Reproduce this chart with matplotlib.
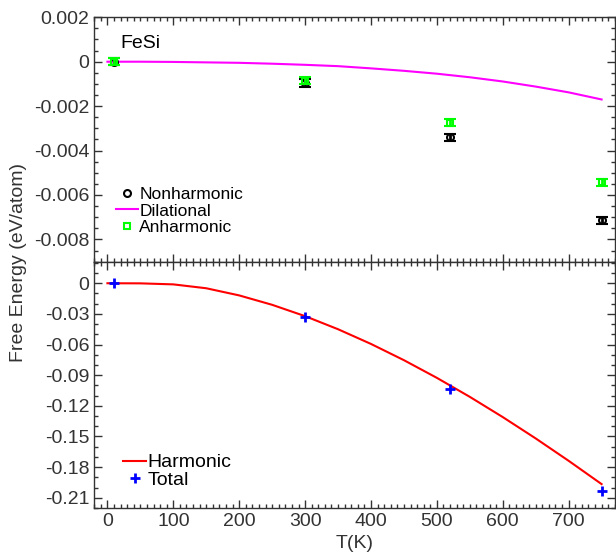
import matplotlib
matplotlib.use("Agg")
import matplotlib.pyplot as plt
from matplotlib.lines import Line2D
from matplotlib.ticker import MultipleLocator, FuncFormatter

plt.rcParams['font.family'] = ['Liberation Sans', 'DejaVu Sans']

# temperatures of the computed points
T_pts = [10, 300, 520, 750]
nonharmonic = [0.0, -0.00096, -0.0034, -0.00713]
nonharmonic_err = [0.00016, 0.00016, 0.00016, 0.00016]
anharmonic = [0.0, -0.00085, -0.00275, -0.00542]
anharmonic_err = [0.00016, 0.00016, 0.00016, 0.00016]
total = [0.0, -0.0326, -0.1033, -0.2036]

# smooth curves
T_curve = [0, 50, 100, 150, 200, 250, 300, 350, 400, 450, 500, 550, 600, 650, 700, 750]
dilational = [0.0, 0.0, -0.00001, -0.00003, -0.00005, -0.00009, -0.00014, -0.0002,
              -0.0003, -0.00041, -0.00054, -0.0007, -0.00089, -0.00112, -0.00138, -0.0017]
harmonic = [0.0, -0.0001, -0.0011, -0.0049, -0.0119, -0.0211, -0.0322, -0.0450,
            -0.0594, -0.0753, -0.0926, -0.1112, -0.1310, -0.1519, -0.1738, -0.1966]

fig = plt.figure(figsize=(6.16, 5.52), dpi=100)
ax1 = fig.add_axes([0.153, 0.5248, 0.845, 0.4439])
ax2 = fig.add_axes([0.153, 0.0797, 0.845, 0.4451], sharex=ax1)

fs = 14
grey = '#333333'

ax1.plot(T_curve, dilational, color='#ff00ff', lw=1.5, zorder=2)
ax1.errorbar(T_pts, nonharmonic, yerr=nonharmonic_err, fmt='o', mfc='none', mec='black',
             ms=5, mew=1.5, ecolor='black', elinewidth=2, capsize=4, capthick=2, zorder=3)
ax1.errorbar(T_pts, anharmonic, yerr=anharmonic_err, fmt='s', mfc='none', mec='#00ff00',
             ms=4.5, mew=1.5, ecolor='#00ff00', elinewidth=2, capsize=4, capthick=2, zorder=4)

ax2.plot(T_curve, harmonic, color='#ff0000', lw=1.5, zorder=2)
ax2.plot(T_pts, total, '+', color='#0000ff', ms=7, mew=2, zorder=3)

ax1.set_xlim(-20, 770)
ax1.set_ylim(-0.00903, 0.002)
ax2.set_ylim(-0.22, 0.0205)

ax1.xaxis.set_major_locator(MultipleLocator(100))
ax1.xaxis.set_minor_locator(MultipleLocator(10))
ax1.yaxis.set_major_locator(MultipleLocator(0.002))
ax1.yaxis.set_minor_locator(MultipleLocator(0.0005))
ax2.yaxis.set_major_locator(MultipleLocator(0.03))
ax2.yaxis.set_minor_locator(MultipleLocator(0.01))

def fmt(v, pos):
    s = ('%.3f' % v).rstrip('0').rstrip('.')
    if s in ('-0', '0'):
        return '0'
    return s

ax1.yaxis.set_major_formatter(FuncFormatter(fmt))
ax2.yaxis.set_major_formatter(FuncFormatter(fmt))

for ax in (ax1, ax2):
    ax.tick_params(which='both', direction='in', top=True, right=True,
                   color=grey, labelsize=fs, labelcolor=grey)
    ax.tick_params(which='major', length=6, width=1)
    ax.tick_params(which='minor', length=3, width=1)
    for sp in ax.spines.values():
        sp.set_color(grey)
        sp.set_linewidth(1)
ax1.tick_params(labelbottom=False)

ax1.text(0.05, 0.895, 'FeSi', transform=ax1.transAxes, fontsize=fs, color='black',
         va='center', ha='left')

h1 = [Line2D([], [], ls='none', marker='o', mfc='none', mec='black', ms=5, mew=1.5),
      Line2D([], [], color='#ff00ff', lw=1.5),
      Line2D([], [], ls='none', marker='s', mfc='none', mec='#00ff00', ms=4.5, mew=1.5)]
ax1.legend(h1, ['Nonharmonic', 'Dilational', 'Anharmonic'], loc='lower left',
           bbox_to_anchor=(0.018, 0.06), frameon=False, fontsize=12.5, handlelength=1.3,
           handletextpad=0.05, labelspacing=0.1, borderaxespad=0.3)

h2 = [Line2D([], [], color='#ff0000', lw=1.5),
      Line2D([], [], ls='none', marker='+', color='#0000ff', ms=7, mew=2)]
ax2.legend(h2, ['Harmonic', 'Total'], loc='lower left', bbox_to_anchor=(0.029, 0.022),
           frameon=False, fontsize=fs, handlelength=1.2, handletextpad=0.05,
           labelspacing=0.0, borderaxespad=0.3)

ax2.set_xlabel('T(K)', fontsize=fs, color=grey, labelpad=4)
fig.text(0.03, 0.525, 'Free Energy (eV/atom)', rotation=90, va='center', ha='center',
         fontsize=fs, color=grey)

fig.savefig('out.png', dpi=100)
